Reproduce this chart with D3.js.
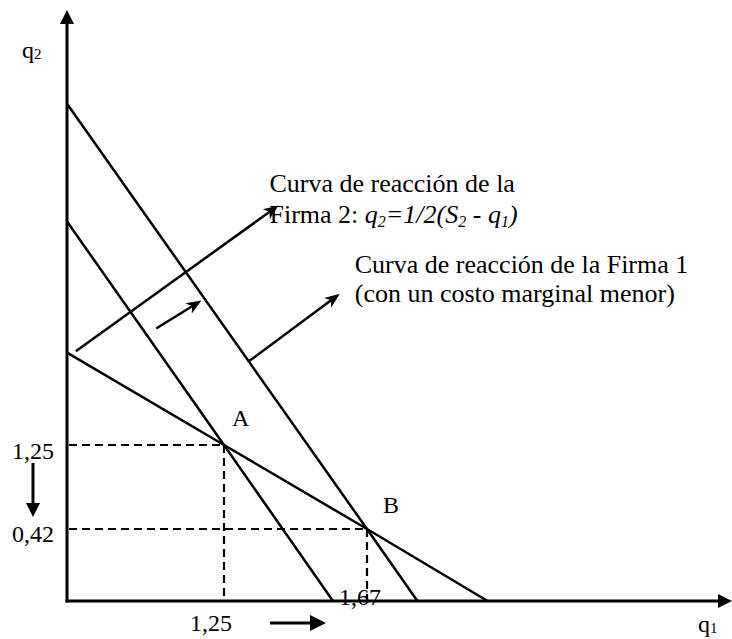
<!DOCTYPE html>
<html>
<head>
<meta charset="utf-8">
<script src="https://cdn.jsdelivr.net/npm/d3@7"></script>
<style>
  body { margin: 0; background: #fff; }
  svg { display: block; }
  text { font-family: "Liberation Serif", "Times New Roman", serif; fill: #000; }
</style>
</head>
<body>
<svg id="chart" width="732" height="639"></svg>
<script>
// Schematic (non-uniform) axis breakpoints: origin, marked quantities, axis end
const q1Breaks = [0, 1.25, 1.67, 5];
const q2Breaks = [0, 0.42, 1.25, 4.5];

// Tick values and their labels
const q1TickValues = [1.25, 1.67];
const q1TickLabels = ["1,25", "1,67"];
const q2TickValues = [1.25, 0.42];
const q2TickLabels = ["1,25", "0,42"];

// Cournot equilibria: A (original costs), B (firm 1 with lower marginal cost)
const equilibriumNames = ["A", "B"];
const equilibriumQ1 = [1.25, 1.67];
const equilibriumQ2 = [1.25, 0.42];

// Reaction curves as [q1, q2] points (intercepts and equilibria)
const firm2Reaction = [[0, 1.94], [1.25, 1.25], [1.67, 0.42], [2.77, 0]];
const firm1Reaction = [[0, 2.92], [1.25, 1.25], [1.57, 0]];
const firm1LowCost = [[0, 3.80], [1.67, 0.42], [2.13, 0]];

// Annotation arrows [from, to] in [q1, q2]
const pointerFirm2 = [[0.07, 1.95], [1.41, 3.04]];
const shiftArrow = [[0.71, 2.12], [1.07, 2.33]];
const pointerFirm1 = [[1.32, 1.87], [1.59, 2.38]];

const svg = d3.select("#chart");
const W = 732, H = 639;
svg.append("rect").attr("width", W).attr("height", H).attr("fill", "#fff");

const x = d3.scaleLinear().domain(q1Breaks).range([67, 224, 367, 732]);
const y = d3.scaleLinear().domain(q2Breaks).range([601, 529, 445, 10]);

const line = d3.line().x(d => x(d[0])).y(d => y(d[1]));

// Filled triangular arrow head + shaft between two pixel points
function arrow(g, x1, y1, x2, y2, opt) {
  const len = opt.len, half = opt.half, notch = opt.notch || 0;
  const dx = x2 - x1, dy = y2 - y1, L = Math.hypot(dx, dy);
  const ux = dx / L, uy = dy / L, nx = -uy, ny = ux;
  const bx = x2 - ux * len, by = y2 - uy * len;
  const sx = x2 - ux * (len - notch), sy = y2 - uy * (len - notch);
  g.append("line")
    .attr("x1", x1).attr("y1", y1)
    .attr("x2", x2 - ux * (len - notch - 1)).attr("y2", y2 - uy * (len - notch - 1))
    .attr("stroke", "#000").attr("stroke-width", opt.width);
  g.append("path")
    .attr("d", `M${x2},${y2}L${bx + nx * half},${by + ny * half}L${sx},${sy}L${bx - nx * half},${by - ny * half}Z`)
    .attr("fill", "#000");
}

// Axes
const axes = svg.append("g");
arrow(axes, x(0), y(0) + 1.5, x(0), y(q2Breaks[3]), { len: 14, half: 7, width: 3 });
arrow(axes, x(0) - 1.5, y(0), x(q1Breaks[3]), y(0), { len: 14, half: 7, width: 3 });

// Dashed guides from each equilibrium to the axes
const guides = svg.append("g")
  .attr("stroke", "#000").attr("stroke-width", 2.2).attr("stroke-dasharray", "8,5").attr("fill", "none");
equilibriumQ1.forEach((q1, i) => {
  const q2 = equilibriumQ2[i];
  guides.append("line").attr("x1", x(0) + 2).attr("y1", y(q2)).attr("x2", x(q1)).attr("y2", y(q2));
  guides.append("line").attr("x1", x(q1)).attr("y1", y(q2)).attr("x2", x(q1)).attr("y2", y(0) - 2);
});

// Reaction curves
const curves = svg.append("g").attr("fill", "none").attr("stroke", "#000").attr("stroke-width", 2.5);
[firm2Reaction, firm1Reaction, firm1LowCost].forEach(c => curves.append("path").attr("d", line(c)));

// Annotation arrows
const notes = svg.append("g");
[pointerFirm2, shiftArrow, pointerFirm1].forEach(a => {
  arrow(notes, x(a[0][0]), y(a[0][1]), x(a[1][0]), y(a[1][1]), { len: 15, half: 6, notch: 4, width: 2.5 });
});

// Movement arrows: q2 falls 1,25 -> 0,42 ; q1 rises 1,25 -> 1,67
arrow(notes, 33, y(q2TickValues[0]) + 18, 33, y(q2TickValues[1]) - 12, { len: 14, half: 7, width: 3 });
arrow(notes, x(q1TickValues[0]) + 46, 623, x(q1TickValues[1]) - 41, 623, { len: 16, half: 8, width: 3 });

// Tick labels
const labels = svg.append("g").attr("font-size", 24);
q2TickValues.forEach((v, i) => {
  labels.append("text").attr("x", 33).attr("y", y(v) + (i === 0 ? 14 : 13))
    .attr("text-anchor", "middle").text(q2TickLabels[i]);
});
labels.append("text").attr("x", x(q1TickValues[0]) - 13).attr("y", 631)
  .attr("text-anchor", "middle").text(q1TickLabels[0]);
labels.append("text").attr("x", x(q1TickValues[1]) - 7).attr("y", y(0) + 4)
  .attr("text-anchor", "middle").text(q1TickLabels[1]);

// Equilibrium labels
equilibriumNames.forEach((n, i) => {
  labels.append("text")
    .attr("x", x(equilibriumQ1[i]) + (i === 0 ? 8 : 16))
    .attr("y", y(equilibriumQ2[i]) - (i === 0 ? 19 : 16))
    .text(n);
});

// Axis titles
const t2 = labels.append("text").attr("x", 22).attr("y", 58);
t2.append("tspan").text("q");
t2.append("tspan").attr("font-size", 15).attr("dy", 1).text("2");
const t1 = labels.append("text").attr("x", 698).attr("y", 632);
t1.append("tspan").text("q");
t1.append("tspan").attr("font-size", 15).attr("dy", 1).text("1");

// Curve descriptions
const tip2 = [x(pointerFirm2[1][0]), y(pointerFirm2[1][1])];
const d2 = svg.append("g").attr("font-size", 26);
d2.append("text").attr("x", tip2[0] - 9).attr("y", tip2[1] - 13).text("Curva de reacción de la");
const f2 = d2.append("text").attr("x", tip2[0] - 9).attr("y", tip2[1] + 18);
f2.append("tspan").text("Firma 2: ");
const it = f2.append("tspan").attr("font-style", "italic");
it.append("tspan").text("q");
it.append("tspan").attr("font-size", 16).attr("dy", 4).text("2");
it.append("tspan").attr("dy", -4).text("=1/2(S");
it.append("tspan").attr("font-size", 16).attr("dy", 4).text("2");
it.append("tspan").attr("dy", -4).text(" - q");
it.append("tspan").attr("font-size", 16).attr("dy", 4).text("1");
it.append("tspan").attr("dy", -4).text(")");

const tip1 = [x(pointerFirm1[1][0]), y(pointerFirm1[1][1])];
d2.append("text").attr("x", tip1[0] + 15).attr("y", tip1[1] - 21).text("Curva de reacción de la Firma 1");
d2.append("text").attr("x", tip1[0] + 15).attr("y", tip1[1] + 8).text("(con un costo marginal menor)");
</script>
</body>
</html>
